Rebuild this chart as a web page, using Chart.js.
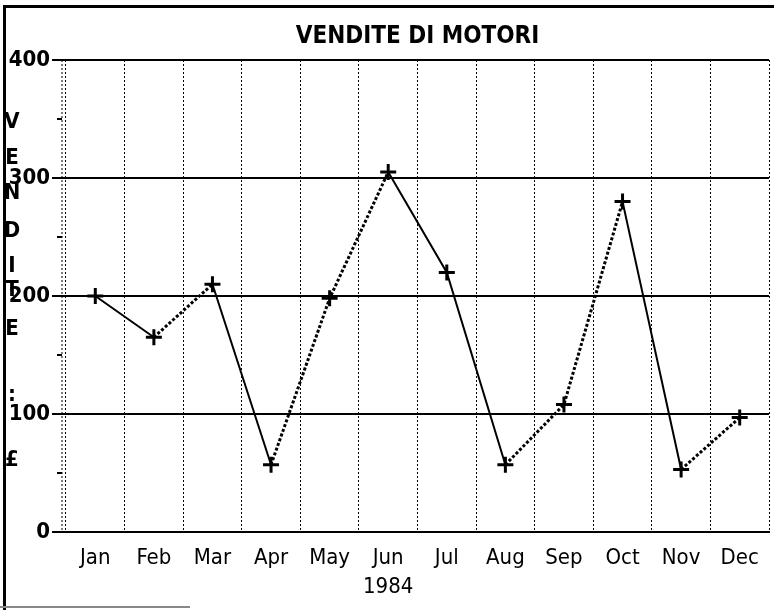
<!DOCTYPE html>
<html>
<head>
<meta charset="utf-8">
<script src="https://cdn.jsdelivr.net/npm/chart.js@4"></script>
<style>
  html, body { margin: 0; padding: 0; background: #fff; overflow: hidden; }
  #frame { position: absolute; left: 3px; top: 5px; width: 780px; height: 602px;
           border-top: 3px solid #000; border-left: 3px solid #000; }
  #bottomEdge { position: absolute; left: 0; top: 606px; width: 190px; height: 2px; background: #888; }
  #grafic { position: absolute; left: 0; top: 0; }
</style>
</head>
<body>
<div id="frame"></div>
<div id="bottomEdge"></div>
<canvas id="grafic" width="780" height="610"></canvas>
<script>
const months = ['Jan', 'Feb', 'Mar', 'Apr', 'May', 'Jun', 'Jul', 'Aug', 'Sep', 'Oct', 'Nov', 'Dec'];
const sales = [200, 165, 210, 57, 198, 305, 220, 57, 108, 280, 53, 97];
const yTicks = [0, 100, 200, 300, 400];
const minorTicks = [50, 150, 250, 350];
const chartTitle = 'VENDITE DI MOTORI';
const yearLabel = '1984';
const axisLetters = ['V', 'E', 'N', 'D', 'I', 'T', 'E', ':', '£'];

const FONT = "'DejaVu Sans', sans-serif";
// y centres of the stacked axis letters (layout only)
const letterY = [122, 158, 193, 231, 266, 290, 329, 395, 460];

const decor = {
    id: 'decor',
    afterDraw(chart) {
        const ctx = chart.ctx;
        const y = chart.scales.y;
        const x = chart.scales.x;
        const area = chart.chartArea;
        ctx.save();
        // minor ticks
        ctx.strokeStyle = '#000';
        ctx.lineWidth = 2;
        minorTicks.forEach(v => {
            const py = y.getPixelForValue(v);
            ctx.beginPath();
            ctx.moveTo(area.left - 9, py);
            ctx.lineTo(area.left - 4, py);
            ctx.stroke();
        });
        // second dotted line beside the axis
        ctx.lineWidth = 1;
        ctx.setLineDash([2, 2]);
        ctx.beginPath();
        ctx.moveTo(area.left - 4, area.top);
        ctx.lineTo(area.left - 4, area.bottom);
        ctx.stroke();
        ctx.setLineDash([]);
        // vertical axis label
        ctx.fillStyle = '#000';
        ctx.font = 'bold condensed 22px ' + FONT;
        ctx.textAlign = 'center';
        ctx.textBaseline = 'middle';
        axisLetters.forEach((ch, i) => ctx.fillText(ch, 12, letterY[i]));
        // year under the middle month
        ctx.font = 'condensed 22px ' + FONT;
        ctx.fillText(yearLabel, x.getPixelForValue(5), 587);
        ctx.restore();
    }
};

const grafic = new Chart(document.getElementById('grafic'), {
    type: 'line',
    data: {
        labels: months,
        datasets: [{
            data: sales,
            borderColor: '#000',
            borderWidth: 2,
            pointStyle: 'cross',
            pointRadius: 8,
            pointBorderWidth: 3,
            pointBorderColor: '#000',
            tension: 0,
            segment: {
                borderDash: ctx => ctx.p1.parsed.y > ctx.p0.parsed.y ? [3, 2] : undefined,
                borderWidth: ctx => ctx.p1.parsed.y > ctx.p0.parsed.y ? 3 : 2
            }
        }]
    },
    options: {
        responsive: false,
        animation: false,
        layout: { padding: { left: 0, right: 4, top: 0, bottom: 0 } },
        plugins: {
            legend: { display: false },
            tooltip: { enabled: false },
            title: {
                display: true,
                text: chartTitle,
                fullSize: false,
                color: '#000',
                font: { family: FONT, size: 24, weight: 'bold condensed', lineHeight: 1.1 },
                padding: { top: 24, bottom: 9.6 }
            }
        },
        scales: {
            x: {
                offset: true,
                grid: {
                    offset: true,
                    color: '#000',
                    lineWidth: 1,
                    drawTicks: false
                },
                border: { display: true, color: '#000', width: 2, dash: [2, 2] },
                ticks: {
                    color: '#000',
                    padding: 13,
                    maxRotation: 0,
                    font: { family: FONT, size: 22, weight: 'condensed' }
                },
                afterFit: scale => { scale.height = 78; }
            },
            y: {
                min: 0,
                max: 400,
                afterBuildTicks: scale => { scale.ticks = yTicks.map(v => ({ value: v })); },
                grid: {
                    color: '#000',
                    lineWidth: 2,
                    tickLength: 14
                },
                border: { display: false },
                ticks: {
                    color: '#000',
                    padding: 2,
                    font: { family: FONT, size: 22, weight: 'bold condensed' }
                },
                afterFit: scale => { scale.width = 66; }
            }
        }
    },
    plugins: [decor]
});
</script>
</body>
</html>
